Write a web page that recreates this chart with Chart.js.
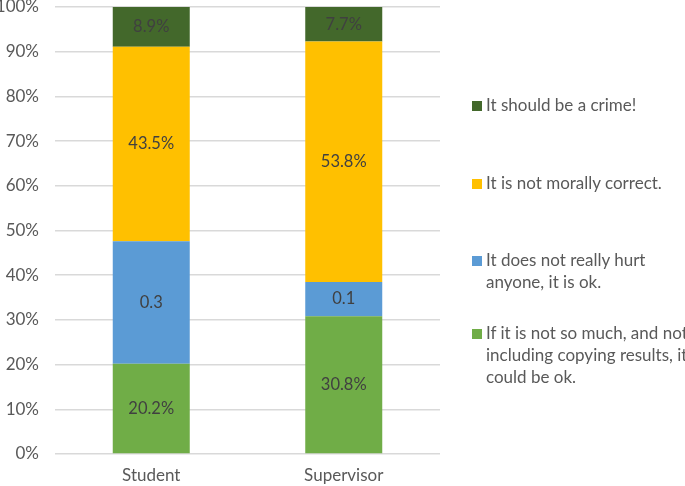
<!DOCTYPE html>
<html>
<head>
<meta charset="utf-8">
<script src="https://cdn.jsdelivr.net/npm/chart.js@4.4.0/dist/chart.umd.min.js"></script>
<style>
  html, body { margin: 0; padding: 0; background: #fff; overflow: hidden; }
  #wrap { position: relative; width: 685px; height: 486px; overflow: hidden; }
  #legend { position: absolute; left: 470px; top: 0; width: 230px; font-family: Lato, sans-serif; font-size: 17px; color: #595959; }
  .item { position: absolute; left: 0; width: 212px; padding-left: 16px; line-height: 22px; }
  .item span { position: absolute; left: 2px; top: 7px; width: 10px; height: 10px; }
</style>
</head>
<body>
<div id="wrap">
  <canvas id="chart" width="685" height="486"></canvas>
  <div id="legend"></div>
</div>
<script>
var groups = ['Student', 'Supervisor'];
var seriesNames = [
    'If it is not so much, and not including copying results, it could be ok.',
    'It does not really hurt anyone, it is ok.',
    'It is not morally correct.',
    'It should be a crime!'
];
var okIfLittle = [20.2, 30.8];
var noHurt = [27.4, 7.7];
var notMoral = [43.5, 53.8];
var crime = [8.9, 7.7];
var okIfLittleLabels = ['20.2%', '30.8%'];
var noHurtLabels = ['0.3', '0.1'];
var notMoralLabels = ['43.5%', '53.8%'];
var crimeLabels = ['8.9%', '7.7%'];
var colors = ['#70AD47', '#5B9BD5', '#FFC000', '#43682B'];

var values = [okIfLittle, noHurt, notMoral, crime];
var labels = [okIfLittleLabels, noHurtLabels, notMoralLabels, crimeLabels];

var datasets = [];
for (var i = 0; i < values.length; i++) {
    datasets.push({
        label: seriesNames[i],
        data: values[i],
        valueLabels: labels[i],
        backgroundColor: colors[i],
        borderWidth: 0,
        categoryPercentage: 1,
        barPercentage: 0.4
    });
}

// draws the value text in the middle of every segment
var segmentText = {
    id: 'segmentText',
    afterDatasetsDraw: function (chart) {
        var ctx = chart.ctx;
        ctx.save();
        ctx.font = '16.5px Lato';
        ctx.fillStyle = '#404040';
        ctx.textAlign = 'center';
        ctx.textBaseline = 'middle';
        chart.data.datasets.forEach(function (ds, i) {
            chart.getDatasetMeta(i).data.forEach(function (bar, j) {
                ctx.fillText(ds.valueLabels[j], bar.x, (bar.y + bar.base) / 2);
            });
        });
        ctx.restore();
    }
};

new Chart(document.getElementById('chart'), {
    type: 'bar',
    data: { labels: groups, datasets: datasets },
    options: {
        responsive: false,
        animation: false,
        layout: { padding: { left: 0, right: 245, top: 7, bottom: 0 } },
        plugins: { legend: { display: false }, tooltip: { enabled: false } },
        scales: {
            x: {
                stacked: true,
                grid: { display: false },
                border: { display: false },
                ticks: { color: '#595959', font: { family: 'Lato', size: 17 }, padding: 3 },
                afterFit: function (scale) { scale.height = 32; scale.paddingLeft = 0; scale.paddingRight = 0; }
            },
            y: {
                stacked: true,
                min: 0,
                max: 100,
                border: { display: false },
                grid: { color: '#D9D9D9', lineWidth: 1.5, drawTicks: false },
                ticks: {
                    stepSize: 10,
                    color: '#595959',
                    font: { family: 'Lato', size: 17 },
                    padding: 16,
                    callback: function (v) { return v + '%'; }
                },
                afterFit: function (scale) { scale.width = 55; scale.paddingTop = 0; scale.paddingBottom = 0; }
            }
        }
    },
    plugins: [segmentText]
});

// legend on the right, top entry first
var legendTops = [322, 249, 172, 94];
var legendEl = document.getElementById('legend');
for (var k = seriesNames.length - 1; k >= 0; k--) {
    var div = document.createElement('div');
    div.className = 'item';
    div.style.top = legendTops[k] + 'px';
    div.innerHTML = '<span style="background:' + colors[k] + '"></span>' + seriesNames[k];
    legendEl.appendChild(div);
}
</script>
</body>
</html>
